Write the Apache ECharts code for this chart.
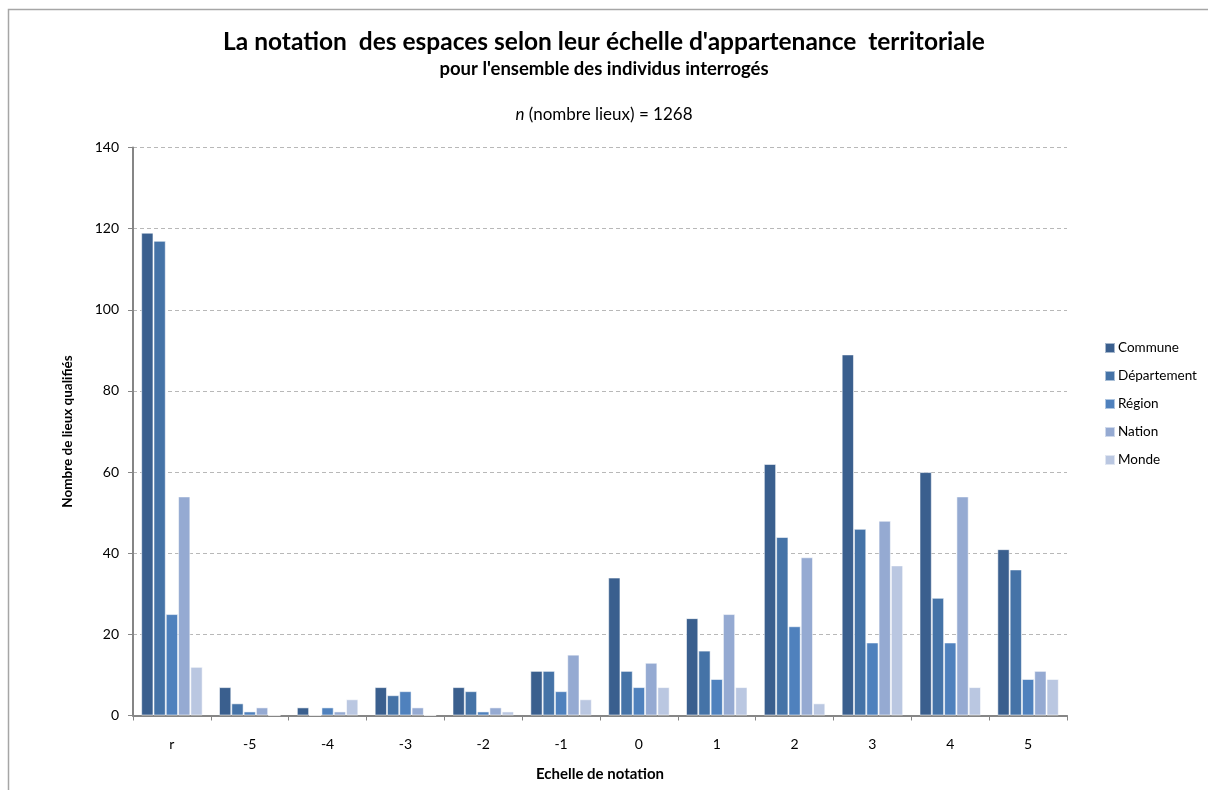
<!DOCTYPE html>
<html>
<head>
<meta charset="utf-8">
<script src="https://cdn.jsdelivr.net/npm/echarts@6/dist/echarts.min.js"></script>
<style>
  html, body { margin: 0; padding: 0; background: #fff; }
  #chart { width: 1208px; height: 790px; }
</style>
</head>
<body>
<div id="chart"></div>
<script>
// Notes de l'échelle (r = refus / non noté)
const categories = ['r', '-5', '-4', '-3', '-2', '-1', '0', '1', '2', '3', '4', '5'];

// Nombre de lieux qualifiés par échelle territoriale
const commune     = [119, 7, 2, 7, 7, 11, 34, 24, 62, 89, 60, 41];
const departement = [117, 3, 0, 5, 6, 11, 11, 16, 44, 46, 29, 36];
const region      = [25, 1, 2, 6, 1, 6, 7, 9, 22, 18, 18, 9];
const nation      = [54, 2, 1, 2, 2, 15, 13, 25, 39, 48, 54, 11];
const monde       = [12, 0, 4, 0, 1, 4, 7, 7, 3, 37, 7, 9];

const seriesNames = ['Commune', 'Département', 'Région', 'Nation', 'Monde'];
const seriesData = [commune, departement, region, nation, monde];
const colors = ['#3a5f8e', '#4573a7', '#4f81bd', '#95aad2', '#bac7e1'];

const font = 'Lato, "Open Sans", sans-serif';

const chart = echarts.init(document.getElementById('chart'), null, { renderer: 'canvas' });

chart.setOption({
  animation: false,
  backgroundColor: '#ffffff',
  color: colors,
  textStyle: { fontFamily: font, color: '#000' },
  graphic: [
    {
      type: 'polyline',
      shape: { points: [[8.5, 790], [8.5, 9.5], [1208, 9.5]] },
      style: { stroke: '#a6a6a6', lineWidth: 1.5, fill: null },
      silent: true
    }
  ],
  title: [
    {
      text: "La notation  des espaces selon leur échelle d'appartenance  territoriale",
      left: 'center',
      top: 25,
      textStyle: { fontFamily: font, fontSize: 24.5, fontWeight: 'bold', color: '#000' }
    },
    {
      text: "pour l'ensemble des individus interrogés",
      left: 'center',
      top: 55,
      textStyle: { fontFamily: font, fontSize: 18.5, fontWeight: 'bold', color: '#000' }
    },
    {
      text: '{i|n} (nombre lieux) = 1268',
      left: 'center',
      top: 101,
      textStyle: {
        fontFamily: font, fontSize: 17, fontWeight: 'normal', color: '#000',
        rich: { i: { fontFamily: font, fontSize: 17, fontStyle: 'italic', color: '#000' } }
      }
    }
  ],
  legend: {
    orient: 'vertical',
    left: 1099,
    top: 336,
    itemWidth: 10,
    itemHeight: 10,
    itemGap: 14,
    icon: 'rect',
    data: seriesNames,
    textStyle: { fontFamily: font, fontSize: 13.5, color: '#000', padding: [0, 0, 0, -2] }
  },
  grid: {
    left: 133,
    top: 147.5,
    width: 934,
    height: 568,
    containLabel: false
  },
  xAxis: {
    type: 'category',
    data: categories,
    name: 'Echelle de notation',
    nameLocation: 'middle',
    nameGap: 51,
    nameTextStyle: { fontFamily: font, fontSize: 15, fontWeight: 'bold', color: '#000' },
    axisLine: { lineStyle: { color: '#868686', width: 2 } },
    axisTick: { show: true, length: 5, lineStyle: { color: '#868686', width: 1 } },
    axisLabel: { margin: 22, fontFamily: font, fontSize: 14, color: '#000' },
    splitLine: { show: false }
  },
  yAxis: {
    type: 'value',
    min: 0,
    max: 140,
    interval: 20,
    name: 'Nombre de lieux qualifiés',
    nameLocation: 'middle',
    nameGap: 58,
    nameRotate: 90,
    nameTextStyle: { fontFamily: font, fontSize: 13.5, fontWeight: 'bold', color: '#000' },
    axisLine: { show: true, lineStyle: { color: '#868686', width: 2 } },
    axisTick: { show: true, length: 5, lineStyle: { color: '#868686', width: 1 } },
    axisLabel: { margin: 14, fontFamily: font, fontSize: 14, color: '#000' },
    splitLine: { show: true, lineStyle: { color: '#b8b8b8', type: [4, 3], width: 1 } }
  },
  series: seriesNames.map((name, i) => ({
    name: name,
    type: 'bar',
    data: seriesData[i],
    barGap: '0%',
    barCategoryGap: '21%',
    itemStyle: {
      color: colors[i],
      borderColor: 'rgba(255,255,255,0.55)',
      borderWidth: 1
    },
    emphasis: { disabled: true }
  }))
});
</script>
</body>
</html>
